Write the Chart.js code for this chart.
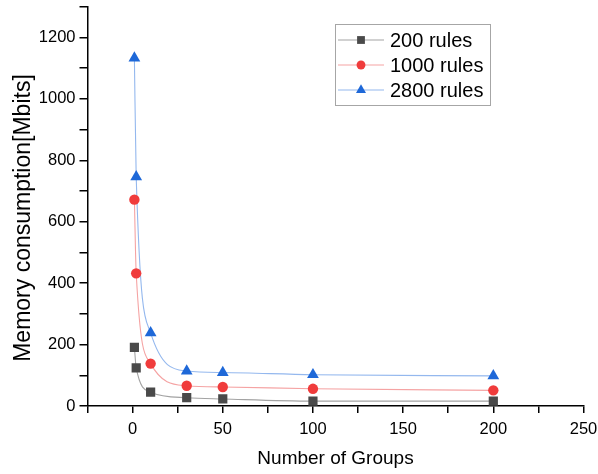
<!DOCTYPE html>
<html>
<head>
<meta charset="utf-8">
<script src="https://cdn.jsdelivr.net/npm/chart.js@4/dist/chart.umd.min.js"></script>
<style>
  html, body { margin: 0; padding: 0; background: #fff; }
  canvas { display: block; }
</style>
</head>
<body>
<canvas id="memChart" width="598" height="474"></canvas>
<script>
// values
const groups = [1, 2, 10, 30, 50, 100, 200];
const rules200 = [191, 124, 45, 27, 23, 16, 16];
const rules1000 = [672, 432, 138, 66, 62, 56, 51];
const rules2800 = [1133, 746, 238, 114, 109, 102, 98];
const seriesLabels = ['200 rules', '1000 rules', '2800 rules'];
const xTitle = 'Number of Groups';
const yTitle = 'Memory consumption[Mbits]';

const FONT = "'Liberation Sans', Arial, sans-serif";

const toPoints = ys => groups.map((x, i) => ({ x, y: ys[i] }));

const styles = [
  { line: '#a3a3a3', mark: '#4a4a4a', shape: 'rect', r: 6.5 },
  { line: '#f5a3a3', mark: '#f03c3c', shape: 'circle', r: 5.2 },
  { line: '#94b8ee', mark: '#1e68d8', shape: 'triangle', r: 6.8 },
];

// axis titles + boxed legend, drawn by hand so they sit where the original has them
const decorations = {
  id: 'decorations',
  afterDraw(chart) {
    const ctx = chart.ctx;
    ctx.save();
    ctx.fillStyle = '#000';
    ctx.textAlign = 'center';
    ctx.textBaseline = 'middle';

    ctx.font = `19px ${FONT}`;
    ctx.fillText(xTitle, (chart.chartArea.left + chart.chartArea.right) / 2, 459);

    ctx.save();
    ctx.translate(24, 218);
    ctx.rotate(-Math.PI / 2);
    ctx.font = `23px ${FONT}`;
    ctx.fillText(yTitle, 0, 0);
    ctx.restore();

    // legend
    ctx.strokeStyle = '#a6a6a6';
    ctx.lineWidth = 1;
    ctx.strokeRect(335.5, 24.5, 155, 81);
    ctx.textAlign = 'left';
    ctx.font = `20px ${FONT}`;
    chart.data.datasets.forEach((ds, i) => {
      const y = 40 + i * 25;
      ctx.strokeStyle = ds.borderColor;
      ctx.lineWidth = 1.2;
      ctx.beginPath();
      ctx.moveTo(338, y);
      ctx.lineTo(384, y);
      ctx.stroke();
      ctx.fillStyle = ds.pointBackgroundColor;
      ctx.strokeStyle = ds.pointBorderColor;
      Chart.helpers.drawPoint(ctx, { pointStyle: ds.pointStyle, radius: ds.pointRadius * 0.85, rotation: 0, borderWidth: 0 }, 361, y);
      ctx.fillStyle = '#000';
      ctx.fillText(ds.label, 390, y + 1);
    });
    ctx.restore();
  }
};

new Chart(document.getElementById('memChart'), {
  type: 'line',
  data: {
    datasets: [rules200, rules1000, rules2800].map((ys, i) => ({
      label: seriesLabels[i],
      data: toPoints(ys),
      borderColor: styles[i].line,
      borderWidth: 1.1,
      cubicInterpolationMode: 'monotone',
      pointStyle: styles[i].shape,
      pointRadius: styles[i].r,
      pointBackgroundColor: styles[i].mark,
      pointBorderColor: styles[i].mark,
      pointBorderWidth: 0,
      fill: false,
    }))
  },
  options: {
    responsive: false,
    animation: false,
    devicePixelRatio: 1,
    layout: { padding: { top: 3, right: 14.5, left: 0, bottom: 0 } },
    plugins: { legend: { display: false }, tooltip: { enabled: false } },
    scales: {
      x: {
        type: 'linear', min: -25, max: 250,
        afterFit: s => { s.height = 68; s.paddingLeft = 0; s.paddingRight = 0; },
        grid: { drawOnChartArea: false, drawTicks: true, tickLength: 7, color: '#000', lineWidth: 1.5 },
        border: { display: true, color: '#000', width: 1.5 },
        ticks: {
          stepSize: 25, autoSkip: false, maxRotation: 0, padding: 7,
          color: '#000', font: { family: FONT, size: 16.5 },
          callback: v => (v >= 0 && v % 50 === 0) ? v : ''
        }
      },
      y: {
        type: 'linear', min: 0, max: 1300,
        afterFit: s => { s.width = 87.5; s.paddingTop = 0; s.paddingBottom = 0; },
        grid: { drawOnChartArea: false, drawTicks: true, tickLength: 8, color: '#000', lineWidth: 1.5 },
        border: { display: true, color: '#000', width: 1.5 },
        ticks: {
          stepSize: 100, autoSkip: false, padding: 4,
          color: '#000', font: { family: FONT, size: 16.5 },
          callback: v => v % 200 === 0 ? v : ''
        }
      }
    }
  },
  plugins: [decorations]
});
</script>
</body>
</html>
